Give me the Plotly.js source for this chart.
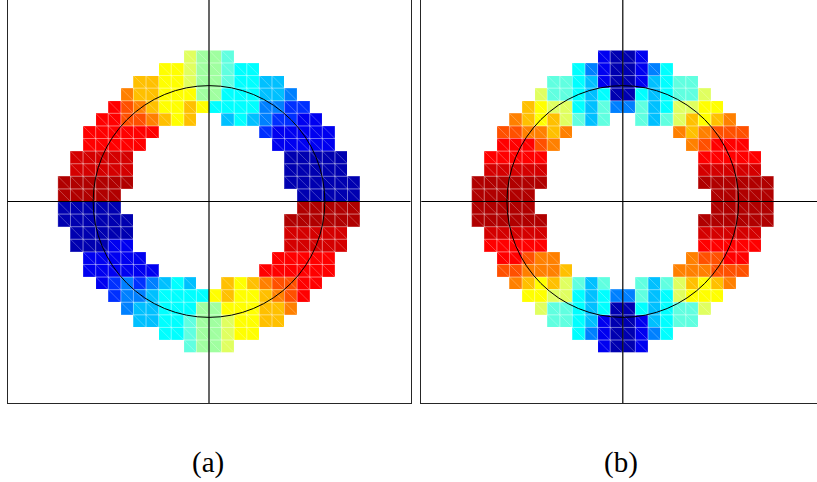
<!DOCTYPE html>
<html>
<head>
<meta charset="utf-8">
<script src="https://cdn.plot.ly/plotly-3.0.1.min.js"></script>
<style>html,body{margin:0;padding:0;background:#fff;}#plot{width:817px;height:482px;}</style>
</head>
<body>
<div id="plot"></div>
<script>
// Colour level of each mesh cell ('.' = empty, 0..f = jet level 0..15)
// rows top to bottom, 24 columns left to right
const panelA = [
  "..........8776..........",
  "........99877655........",
  "......aa9987765544......",
  ".....baa99977555443.....",
  "....dcba99a955553322....",
  "...ddccba9a..45432211...",
  "..dddddd........211111..",
  "..ddddd..........11111..",
  ".eeeee............00000.",
  ".eeeee............00000.",
  "ffffff............000000",
  "fffff..............00000",
  "00000..............fffff",
  "000000............ffffff",
  ".00000............eeeee.",
  ".00011............eeeee.",
  "..11111..........ddddd..",
  "..111111........dddddd..",
  "...12323454..a9abccdd...",
  "....233455559a99abcd....",
  ".....34455577999aab.....",
  "......4455677899aa......",
  "........55677899........",
  "..........6778.........."
];
const panelB = [
  "..........1001..........",
  "........53100135........",
  "......665410014566......",
  ".....86654500545668.....",
  "....a988546336458899....",
  "...ba9a8646..6468a9ab...",
  "..ccbbab........babccc..",
  "..dddcb..........bcddd..",
  ".ddddd............ddddd.",
  ".eeeee............eeeee.",
  "ffffff............ffffff",
  "fffff..............fffff",
  "fffff..............fffff",
  "ffffff............ffffff",
  ".eeeee............eeeee.",
  ".ddddd............ddddd.",
  "..ddcbb..........bccdd..",
  "..ccbbba........bbbccc..",
  "...ba9a8646..6468a9ab...",
  "....998854533645899 9....".replace(" ", ""),
  ".....86654500545668.....",
  "......665410014566......",
  "........53100135........",
  "..........1001.........."
];
const levelColors = ["#0000b0","#0000f0","#0030ff","#0080ff","#00c0ff","#00ffff","#60ffe0","#a0ffa0",
                     "#e0ff60","#ffff00","#ffc000","#ff8000","#ff5000","#ff0000","#d40000","#b00000"];
const panelLabels = ["(a)", "(b)"];
const circleRadius = 9.2;   // reference circle radius, in cell units

// ---------- build traces ----------
const N = 24, H = N / 2;
const colorscale = levelColors.map((c, k) => [k / (levelColors.length - 1), c]);
function parse(rows) {
  const z = [];
  rows.forEach(r => z.push(r.split("").map(ch => ch === "." ? null : parseInt(ch, 16))));
  return z;
}
const xs = Array.from({length: N}, (_, c) => c - H + 0.5);
const ys = Array.from({length: N}, (_, r) => H - r - 0.5);

function meshLines(z) {
  const lx = [], ly = [];
  z.forEach((row, r) => row.forEach((v, c) => {
    if (v === null) return;
    const x0 = c - H, x1 = x0 + 1, y1 = H - r, y0 = y1 - 1;
    lx.push(x0, x1, x1, x0, x0, null, x0, x1, null);
    ly.push(y0, y0, y1, y1, y0, null, y1, y0, null);
  }));
  return {lx, ly};
}

const traces = [];
[panelA, panelB].forEach((rows, i) => {
  const z = parse(rows);
  const xa = i === 0 ? "x" : "x2", ya = i === 0 ? "y" : "y2";
  traces.push({type: "heatmap", x: xs, y: ys, z: z, zmin: 0, zmax: 15, colorscale: colorscale,
               showscale: false, xaxis: xa, yaxis: ya, hoverinfo: "skip"});
  const m = meshLines(z);
  traces.push({type: "scatter", mode: "lines", x: m.lx, y: m.ly, xaxis: xa, yaxis: ya,
               line: {color: "rgba(255,255,255,0.36)", width: 0.7}, hoverinfo: "skip", connectgaps: false});
});

// ---------- layout ----------
const W = 817, HT = 482;
const cellPx = 403 / 32;
const aLeft = 7.5, aRight = 410.5, bLeft = 421.3;
const plotTop = 0.5, plotBottom = 403;
const bRangeMax = (W - (bLeft + 16 * cellPx)) / cellPx;
const yDom = [(HT - plotBottom) / HT, 1];

function ax(domain, range, mirror) {
  return {domain: domain, range: range, showgrid: false, zeroline: false, showticklabels: false,
          ticks: "", showline: true, mirror: mirror, linecolor: "#262626", linewidth: 1, fixedrange: true};
}

const shapes = [];
[["x", "y"], ["x2", "y2"]].forEach(([xa, ya]) => {
  shapes.push({type: "line", xref: xa, yref: ya + " domain", x0: 0, x1: 0, y0: 0, y1: 1,
               line: {color: "#000", width: 1.2}, layer: "above"});
  shapes.push({type: "line", xref: xa + " domain", yref: ya, x0: 0, x1: 1, y0: 0, y1: 0,
               line: {color: "#000", width: 1.2}, layer: "above"});
  shapes.push({type: "circle", xref: xa, yref: ya, x0: -circleRadius, x1: circleRadius,
               y0: -circleRadius, y1: circleRadius, line: {color: "#000", width: 1}, layer: "above"});
});

const labelFont = {family: "Liberation Serif, DejaVu Serif, serif", size: 29, color: "#000"};
const annotations = [
  {text: panelLabels[0], xref: "paper", yref: "paper", x: 208.5 / W, y: (HT - 462) / HT,
   showarrow: false, font: labelFont, xanchor: "center", yanchor: "middle"},
  {text: panelLabels[1], xref: "paper", yref: "paper", x: 621 / W, y: (HT - 462) / HT,
   showarrow: false, font: labelFont, xanchor: "center", yanchor: "middle"}
];

const layout = {
  width: W, height: HT, margin: {l: 0, r: 0, t: 0, b: 0, pad: 0},
  paper_bgcolor: "#fff", plot_bgcolor: "#fff", showlegend: false,
  xaxis: ax([aLeft / W, aRight / W], [-16, 16], true),
  yaxis: ax(yDom, [-16, 16], true),
  xaxis2: ax([bLeft / W, 1], [-16, bRangeMax], true),
  yaxis2: ax(yDom, [-16, 16], false),
  shapes: shapes, annotations: annotations
};
layout.xaxis.anchor = "y"; layout.yaxis.anchor = "x";
layout.xaxis2.anchor = "y2"; layout.yaxis2.anchor = "x2";

Plotly.newPlot("plot", traces, layout, {staticPlot: true, displayModeBar: false});
</script>
</body>
</html>
